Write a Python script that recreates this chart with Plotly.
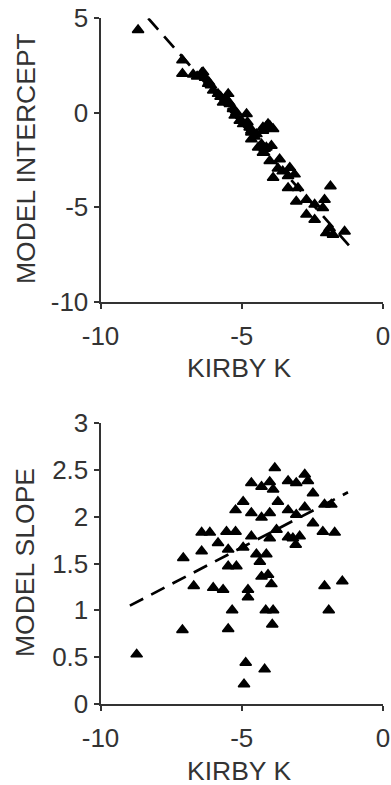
import plotly.graph_objects as go

# ---------------- data ----------------
top_kirby_k = [-8.67, -7.10, -7.10, -6.72, -6.42, -6.58, -6.16, -6.09, -6.01, -5.84,
               -5.48, -5.66, -5.42, -5.31, -5.25, -4.83, -5.07, -4.95, -4.72, -4.66,
               -4.25, -4.01, -3.89, -4.13, -4.48, -4.66, -4.30, -3.95, -4.42, -4.13,
               -4.25, -4.01, -3.66, -3.89, -3.30, -3.13, -3.36, -3.36, -3.01, -3.07,
               -2.71, -2.42, -2.07, -1.86, -2.13, -2.71, -2.42, -2.01, -1.77, -1.36,
               -1.89, -3.72, -3.55,
               -6.37, -6.19, -5.45, -5.19, -4.80, -4.66, -4.07, -4.25, -4.19, -5.01,
               -6.30, -5.75, -5.55, -4.55]
top_intercept = [4.38, 2.78, 2.07, 2.03, 2.10, 1.92, 1.62, 1.45, 1.18, 1.00,
                 1.00, 0.55, 0.47, 0.20, -0.15, -0.06, -0.42, -0.60, -0.78, -1.04,
                 -0.78, -0.69, -0.86, -0.72, -1.13, -1.40, -1.66, -1.75, -1.84, -1.84,
                 -2.11, -2.55, -2.46, -3.44, -2.91, -3.26, -3.35, -3.98, -3.98, -4.69,
                 -4.60, -4.86, -4.60, -3.89, -5.04, -5.39, -5.66, -6.37, -6.46, -6.28,
                 -6.11, -2.95, -3.10,
                 2.15, 1.53, 0.55, 0.02, -0.50, -0.95, -0.60, -0.95, -1.90, -0.42,
                 1.85, 0.85, 0.70, -1.25]

bottom_kirby_k = [-3.83, -4.66, -4.30, -4.01, -3.89, -3.36, -3.07, -2.77, -2.66, -2.48,
                  -3.72, -4.95, -5.22, -4.66, -4.30, -4.01, -3.36, -3.07, -2.77, -2.07,
                  -1.83, -2.48, -2.13, -1.71, -6.42, -6.13, -5.54, -5.22, -4.66, -4.01,
                  -3.77, -3.36, -3.19, -2.95, -3.09, -5.84, -6.42, -5.48, -4.95, -7.07,
                  -4.48, -4.13, -4.36, -5.48, -5.19, -4.30, -4.07, -6.70, -6.01, -5.66,
                  -4.78, -3.95, -2.07, -1.44, -4.78, -5.34, -4.15, -3.89, -1.92, -3.92,
                  -7.10, -5.48, -8.72, -4.86, -4.19, -4.92]
bottom_slope = [2.52, 2.36, 2.32, 2.37, 2.29, 2.38, 2.36, 2.45, 2.38, 2.25,
                2.16, 2.16, 2.07, 2.04, 1.99, 2.04, 2.07, 2.02, 2.10, 2.13,
                2.13, 1.93, 1.84, 1.83, 1.83, 1.83, 1.84, 1.84, 1.79, 1.77,
                1.86, 1.78, 1.77, 1.79, 1.70, 1.72, 1.63, 1.65, 1.67, 1.56,
                1.60, 1.60, 1.52, 1.47, 1.47, 1.36, 1.38, 1.26, 1.24, 1.22,
                1.22, 1.28, 1.26, 1.31, 1.14, 1.00, 1.00, 1.00, 1.00, 0.85,
                0.79, 0.80, 0.53, 0.44, 0.37, 0.21]

# dashed regression lines (end points)
top_fit_k = [-8.31, -1.01]
top_fit_y = [5.0, -7.35]
bottom_fit_k = [-8.96, -1.24]
bottom_fit_y = [1.05, 2.26]

x_ticks = [-10, -5, 0]
x_tick_text = ["-10", "-5", "0"]
top_y_ticks = [-10, -5, 0, 5]
top_y_tick_text = ["-10", "-5", "0", "5"]
bottom_y_ticks = [0, 0.5, 1, 1.5, 2, 2.5, 3]
bottom_y_tick_text = ["0", "0.5", "1", "1.5", "2", "2.5", "3"]

x_title = "KIRBY K"
top_y_title = "MODEL INTERCEPT"
bottom_y_title = "MODEL SLOPE"

# ---------------- figure ----------------
W, H = 391, 785
FONT = "Liberation Sans, Arial, sans-serif"
TXT = "#333333"
AX = "#333333"

def px_x(p):
    return p / W

def px_y(p):
    return 1 - p / H

fig = go.Figure()

marker = dict(symbol="triangle-up", size=10, color="black",
              line=dict(color="black", width=1.5))
line_style = dict(color="black", width=2.7, dash="15px,9px")

fig.add_trace(go.Scatter(x=top_kirby_k, y=top_intercept, mode="markers",
                         marker=marker, xaxis="x", yaxis="y", showlegend=False,
                         cliponaxis=False))
fig.add_trace(go.Scatter(x=top_fit_k, y=top_fit_y, mode="lines",
                         line=line_style, xaxis="x", yaxis="y", showlegend=False,
                         cliponaxis=False))
fig.add_trace(go.Scatter(x=bottom_kirby_k, y=bottom_slope, mode="markers",
                         marker=marker, xaxis="x2", yaxis="y2", showlegend=False,
                         cliponaxis=False))
fig.add_trace(go.Scatter(x=bottom_fit_k, y=bottom_fit_y, mode="lines",
                         line=line_style, xaxis="x2", yaxis="y2", showlegend=False,
                         cliponaxis=False))

common_axis = dict(showgrid=False, zeroline=False, showline=True, linecolor=AX,
                   linewidth=2, ticks="outside", ticklen=5, tickwidth=2,
                   tickcolor=AX, tickfont=dict(family=FONT, size=26, color=TXT),
                   tickmode="array", fixedrange=True, automargin=False)

x_dom = [px_x(100.5), px_x(383)]
top_dom = [px_y(301.7), px_y(18.3)]
bot_dom = [px_y(704), px_y(423)]

fig.update_layout(
    template="none",
    width=W, height=H, autosize=False,
    margin=dict(l=0, r=0, t=0, b=0, pad=0),
    paper_bgcolor="white", plot_bgcolor="white",
    xaxis=dict(common_axis, domain=x_dom, range=[-10, 0], anchor="y",
               tickvals=x_ticks, ticktext=x_tick_text, ticklabelstandoff=5),
    yaxis=dict(common_axis, domain=top_dom, range=[-10, 5], anchor="x",
               tickvals=top_y_ticks, ticktext=top_y_tick_text),
    xaxis2=dict(common_axis, domain=x_dom, range=[-10, 0], anchor="y2",
                tickvals=x_ticks, ticktext=x_tick_text, ticklabelstandoff=5),
    yaxis2=dict(common_axis, domain=bot_dom, range=[0, 3], anchor="x2",
                tickvals=bottom_y_ticks, ticktext=bottom_y_tick_text),
)

title_font = dict(family=FONT, size=26.5, color=TXT)
fig.add_annotation(text=x_title, xref="paper", yref="paper", x=px_x(239), y=px_y(367.5),
                   showarrow=False, font=title_font, xanchor="center", yanchor="middle")
fig.add_annotation(text=x_title, xref="paper", yref="paper", x=px_x(239), y=px_y(771),
                   showarrow=False, font=title_font, xanchor="center", yanchor="middle")
fig.add_annotation(text=top_y_title, xref="paper", yref="paper", x=px_x(26), y=px_y(159),
                   showarrow=False, font=title_font, textangle=-90,
                   xanchor="center", yanchor="middle")
fig.add_annotation(text=bottom_y_title, xref="paper", yref="paper", x=px_x(25), y=px_y(563),
                   showarrow=False, font=title_font, textangle=-90,
                   xanchor="center", yanchor="middle")

fig.write_html("out.html", config=dict(displayModeBar=False))
